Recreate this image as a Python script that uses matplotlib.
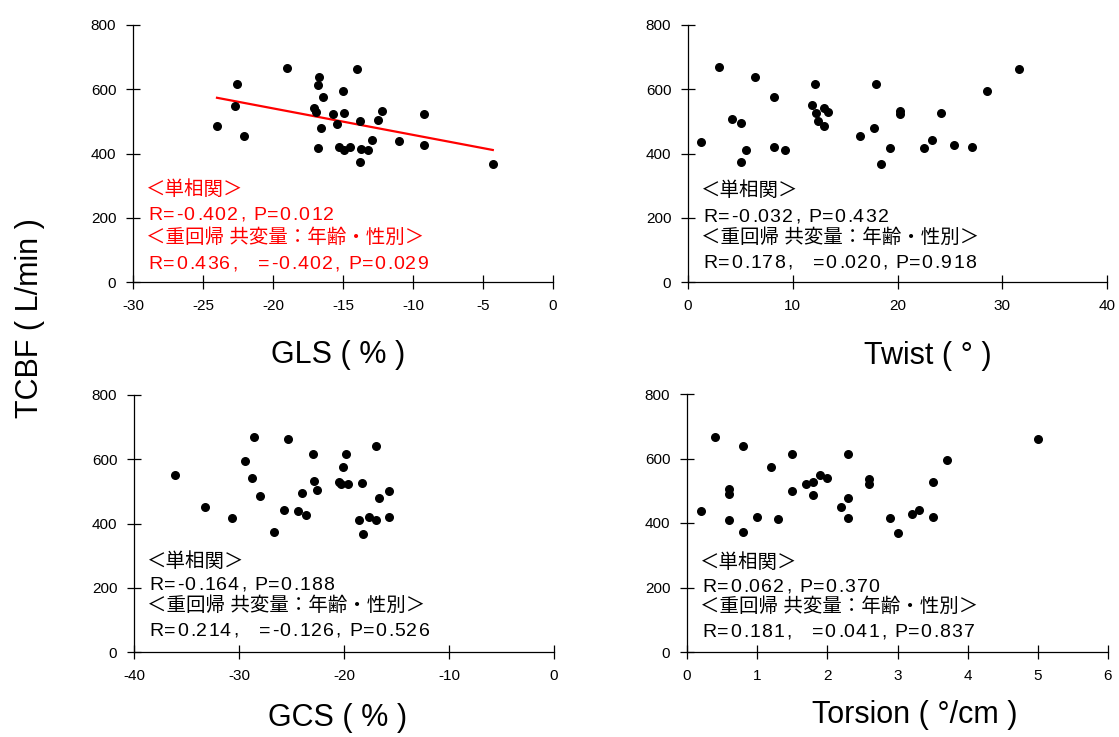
import numpy as np
import matplotlib
matplotlib.use("Agg")
import matplotlib.pyplot as plt
from matplotlib.font_manager import FontProperties, findfont
from matplotlib import ft2font

plt.rcParams["font.family"] = ["Liberation Sans", "Noto Sans CJK JP"]
plt.rcParams["axes.unicode_minus"] = False

# TCBF (L/min) versus each strain parameter
gls_x = [-24.0, -22.6, -22.7, -22.1, -19.0, -16.7, -16.8, -16.4, -17.1, -16.9, -16.6,
         -16.8, -15.7, -15.0, -14.9, -15.4, -15.3, -14.9, -14.5, -14.0, -13.8, -13.7,
         -13.8, -13.2, -12.9, -12.5, -12.2, -11.0, -9.2, -9.2, -4.3]
gls_y = [486, 615, 548, 453, 667, 638, 613, 575, 541, 528, 478,
         416, 523, 595, 526, 493, 420, 411, 421, 662, 501, 415,
         374, 412, 442, 503, 532, 438, 522, 427, 368]

twist_x = [1.2, 3.0, 4.2, 5.1, 5.1, 5.5, 6.4, 8.2, 8.2, 9.3, 11.8, 12.1, 12.2, 12.4,
           13.0, 13.0, 13.4, 16.4, 17.8, 17.9, 18.4, 19.3, 20.2, 20.2, 22.5, 23.3,
           24.2, 25.4, 27.1, 28.5, 31.6]
twist_y = [437, 669, 506, 495, 374, 411, 639, 576, 421, 412, 550, 615, 526, 502,
           542, 487, 529, 453, 478, 616, 368, 417, 533, 524, 417, 442,
           527, 428, 420, 595, 663]

gcs_x = [-36.1, -33.2, -30.7, -29.4, -28.8, -28.6, -28.0, -26.7, -25.7, -25.3, -24.4,
         -24.0, -23.6, -23.0, -22.9, -22.6, -20.5, -20.3, -20.1, -19.8, -19.6, -18.6,
         -18.3, -18.2, -17.6, -17.0, -17.0, -16.7, -15.7, -15.7]
gcs_y = [550, 452, 417, 595, 541, 669, 487, 374, 442, 663, 440,
         495, 428, 616, 533, 505, 528, 523, 577, 615, 524, 411,
         527, 368, 420, 412, 640, 478, 502, 421]

torsion_x = [0.2, 0.4, 0.6, 0.6, 0.6, 0.8, 0.8, 1.0, 1.2, 1.3, 1.5, 1.5, 1.7, 1.8, 1.8,
             1.9, 2.0, 2.2, 2.3, 2.3, 2.3, 2.6, 2.6, 2.9, 3.0, 3.2, 3.3, 3.5, 3.5, 3.7, 5.0]
torsion_y = [438, 667, 506, 491, 410, 638, 373, 420, 575, 412, 613, 500, 522, 528, 487,
             549, 540, 451, 614, 478, 415, 536, 521, 415, 368, 428, 440, 526, 419, 595, 661]

x_labels = ["GLS ( % )", "Twist ( ° )", "GCS ( % )", "Torsion ( °/cm )"]
x_limits = [(-30, 0), (0, 40), (-40, 0), (0, 6)]
x_ticks = [np.arange(-30, 1, 5), np.arange(0, 41, 10), np.arange(-40, 1, 10), np.arange(0, 7, 1)]

stats = [
    ["R=-0.402, P=0.012", "R=0.436,   =-0.402, P=0.029"],
    ["R=-0.032, P=0.432", "R=0.178,   =0.020, P=0.918"],
    ["R=-0.164, P=0.188", "R=0.214,   =-0.126, P=0.526"],
    ["R=0.062, P=0.370", "R=0.181,   =0.041, P=0.837"],
]
head1 = "＜単相関＞"
head2 = "＜重回帰 共変量：年齢・性別＞"

W, H = 1119, 737
TXT_SIZE = 14
fig = plt.figure(figsize=(W / 100, H / 100), dpi=100)

# glyph metrics for letter-spaced latin text
latin_font = ft2font.FT2Font(findfont(FontProperties(family="Liberation Sans")))
latin_font.set_size(TXT_SIZE, 100)
try:
    NO_HINT = ft2font.LoadFlags.NO_HINTING
except AttributeError:
    NO_HINT = ft2font.LOAD_NO_HINTING


def spaced_text(x_px, y_px, s, color, tracking=1.3):
    pen = x_px
    for ch in s:
        g = latin_font.load_char(ord(ch), flags=NO_HINT)
        if ch != " ":
            fig.text((pen + g.horiBearingX / 64) / W, 1 - y_px / H, ch, color=color,
                     fontsize=TXT_SIZE, family="Liberation Sans", ha="left", va="baseline")
        pen += g.linearHoriAdvance / 65536 + tracking


# axes boxes in pixels: left, top, right, bottom
boxes = [(133, 25, 553, 282), (688, 25, 1107, 282),
         (134, 395, 554, 652), (687, 394, 1108, 652)]
label_pos = [(338, 355), (928, 356), (338, 718), (915, 715)]
text_x = [146, 701, 147, 700]
text_y = [[190, 213, 238, 262], [191, 215, 238, 261],
          [562, 583, 606, 629], [563, 585, 607, 630]]

data = [(gls_x, gls_y), (twist_x, twist_y), (gcs_x, gcs_y), (torsion_x, torsion_y)]

for i, (xs, ys) in enumerate(data):
    l, t, r, b = boxes[i]
    ax = fig.add_axes([l / W, 1 - b / H, (r - l) / W, (b - t) / H])
    ax.scatter(xs, ys, s=30, color="black", zorder=3, clip_on=False)
    if i == 0:
        k, c = np.polyfit(xs, ys, 1)
        lx = np.array([min(xs), max(xs)])
        ax.plot(lx, k * lx + c, color="red", lw=1.6, zorder=2)
    ax.set_xlim(*x_limits[i])
    ax.set_ylim(0, 800)
    ax.set_xticks(x_ticks[i])
    ax.set_yticks([0, 200, 400, 600, 800])
    for s in ["top", "right"]:
        ax.spines[s].set_visible(False)
    for s in ["left", "bottom"]:
        ax.spines[s].set_linewidth(0.9)
    ax.tick_params(direction="inout", length=10, width=0.9, labelsize=11, pad=7)
    ax.patch.set_alpha(0)

    col = "red" if i == 0 else "black"
    ty = text_y[i]
    fig.text(text_x[i] / W, 1 - ty[0] / H, head1, color=col, fontsize=TXT_SIZE,
             ha="left", va="center")
    spaced_text(text_x[i] + 1, ty[1] + 7, stats[i][0], col)
    fig.text(text_x[i] / W, 1 - ty[2] / H, head2, color=col, fontsize=TXT_SIZE,
             ha="left", va="center")
    spaced_text(text_x[i] + 1, ty[3] + 7, stats[i][1], col)

    fx, fy = label_pos[i]
    fig.text(fx / W, 1 - fy / H, x_labels[i], fontsize=22, ha="center", va="center")

fig.text(30 / W, 1 - 318 / H, "TCBF ( L/min )", fontsize=22, rotation=90,
         ha="center", va="center")

fig.savefig("out.png", dpi=100)
